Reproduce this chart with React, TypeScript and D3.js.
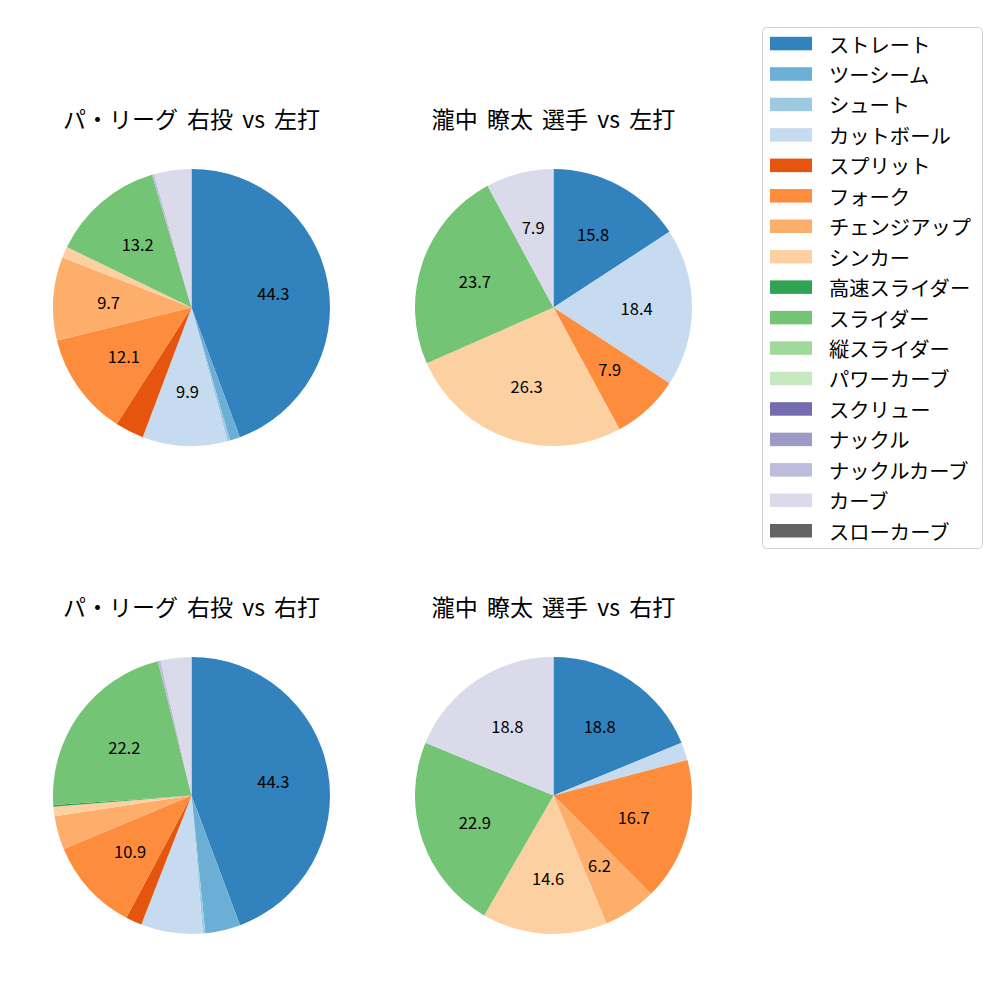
import React from "react";
import * as d3 from "d3";

const categories = [
  "ストレート", "ツーシーム", "シュート", "カットボール", "スプリット", "フォーク",
  "チェンジアップ", "シンカー", "高速スライダー", "スライダー", "縦スライダー",
  "パワーカーブ", "スクリュー", "ナックル", "ナックルカーブ", "カーブ", "スローカーブ",
];

const colors = [
  "#3182bd", "#6baed6", "#9ecae1", "#c6dbef", "#e6550d", "#fd8d3c",
  "#fdae6b", "#fdd0a2", "#31a354", "#74c476", "#a1d99b", "#c7e9c0",
  "#756bb1", "#9e9ac8", "#bcbddc", "#dadaeb", "#636363",
];

// percentages per category (same order as categories)
const leagueVsLeft = [44.3, 1.2, 0.3, 9.9, 3.35, 12.1, 9.7, 1.3, 0, 13.2, 0, 0, 0, 0, 0.25, 4.35, 0];
const playerVsLeft = [15.8, 0, 0, 18.4, 0, 7.9, 0, 26.3, 0, 23.7, 0, 0, 0, 0, 0, 7.9, 0];
const leagueVsRight = [44.3, 4.1, 0.3, 7.2, 1.9, 10.9, 3.9, 1.1, 0.2, 22.2, 0, 0, 0, 0, 0.3, 3.6, 0];
const playerVsRight = [18.8, 0, 0, 2.1, 0, 16.7, 6.2, 14.6, 0, 22.9, 0, 0, 0, 0, 0, 18.8, 0];

// smallest percentage that gets a label, per chart
const labelMin = [5, 5, 8, 5];

const titles = [
  "パ・リーグ 右投 vs 左打",
  "瀧中 瞭太 選手 vs 左打",
  "パ・リーグ 右投 vs 右打",
  "瀧中 瞭太 選手 vs 右打",
];

const seriesList = [leagueVsLeft, playerVsLeft, leagueVsRight, playerVsRight];
const centers = [
  [191.5, 307.5],
  [553.5, 307.5],
  [191.5, 795.5],
  [553.5, 795.5],
];

const FONT = "'Noto Sans CJK JP', 'Noto Sans', sans-serif";
const R = 138.5;

type D = { v: number; i: number };

function Pie({ values, cx, cy, title, minPct }: { values: number[]; cx: number; cy: number; title: string; minPct: number }) {
  const total = d3.sum(values);
  const data: D[] = values.map((v, i) => ({ v, i }));
  const arcs = d3
    .pie<D>()
    .sort(null)
    .value((d) => d.v)
    .startAngle(0)
    .endAngle(2 * Math.PI)(data);
  const arcGen = d3.arc<d3.PieArcDatum<D>>().innerRadius(0).outerRadius(R);
  const labelArc = d3.arc<d3.PieArcDatum<D>>().innerRadius(R * 0.6).outerRadius(R * 0.6);
  return (
    <g>
      <text
        x={cx}
        y={cy - 190}
        textAnchor="middle"
        dominantBaseline="central"
        fontFamily={FONT}
        fontSize={23}
        wordSpacing={4}
      >
        {title}
      </text>
      <g transform={`translate(${cx},${cy})`}>
        {arcs
          .filter((a) => a.data.v > 0)
          .map((a) => (
            <path key={a.data.i} d={arcGen(a) || ""} fill={colors[a.data.i]} />
          ))}
        {arcs
          .filter((a) => (a.data.v / total) * 100 >= minPct)
          .map((a) => {
            const [x, y] = labelArc.centroid(a);
            return (
              <text
                key={"l" + a.data.i}
                x={x}
                y={y}
                textAnchor="middle"
                dominantBaseline="central"
                fontFamily={FONT}
                fontSize={16.5}
              >
                {((a.data.v / total) * 100).toFixed(1)}
              </text>
            );
          })}
      </g>
    </g>
  );
}

export default function App() {
  const legendX = 762.5;
  const legendY = 27.5;
  const rowH = 30.45;
  return (
    <svg width={1000} height={1000} style={{ display: "block", position: "absolute", left: 0, top: 0 }}>
      <rect x={0} y={0} width={1000} height={1000} fill="#fff" />
      {seriesList.map((s, k) => (
        <Pie key={k} values={s} cx={centers[k][0]} cy={centers[k][1]} title={titles[k]} minPct={labelMin[k]} />
      ))}
      <rect
        x={legendX}
        y={legendY}
        width={220}
        height={521}
        rx={4}
        fill="#fff"
        stroke="#d0d0d0"
        strokeWidth={1}
      />
      {categories.map((c, i) => (
        <g key={c} transform={`translate(0, ${43.5 + i * rowH})`}>
          <rect x={770} y={-6.7} width={42} height={13.5} fill={colors[i]} />
          <text x={829} y={0} dominantBaseline="central" fontFamily={FONT} fontSize={20.3}>
            {c}
          </text>
        </g>
      ))}
    </svg>
  );
}
